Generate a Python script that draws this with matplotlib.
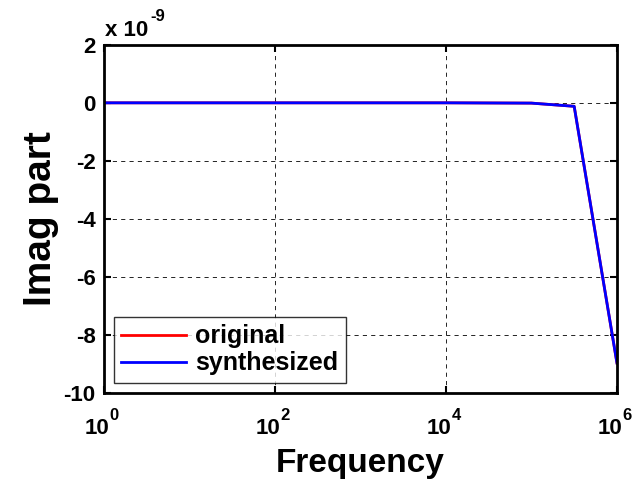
import matplotlib
matplotlib.use("Agg")
import matplotlib.pyplot as plt
from matplotlib.ticker import FixedLocator, NullLocator
from matplotlib.transforms import blended_transform_factory, offset_copy

plt.rcParams['font.family'] = ['Liberation Sans', 'DejaVu Sans']
plt.rcParams['font.weight'] = 'bold'

freq = [1, 10, 100, 1e3, 1e4, 1e5, 3.16e5, 1e6]
original = [0, 0, 0, 0, 0, -0.01e-9, -0.12e-9, -8.97e-9]
synthesized = [0, 0, 0, 0, 0, -0.01e-9, -0.12e-9, -8.97e-9]
yticks = [2, 0, -2, -4, -6, -8, -10]
xticks = [1, 1e2, 1e4, 1e6]
xtick_exponents = ['0', '2', '4', '6']

fig = plt.figure(figsize=(6.38, 4.82), dpi=100)
ax = fig.add_axes([0.163, 0.185, 0.804, 0.722])
scale = 1e-9
ax.plot(freq, [v / scale for v in original], color='red', lw=2, label='original')
ax.plot(freq, [v / scale for v in synthesized], color='blue', lw=2, label='synthesized')
ax.set_xscale('log')
ax.set_xlim(1, 1e6)
ax.set_ylim(-10, 2)
ax.xaxis.set_major_locator(FixedLocator(xticks))
ax.xaxis.set_minor_locator(NullLocator())
ax.set_xticks(xticks)
ax.set_xticklabels([''] * len(xticks))
ax.set_yticks(yticks)
ax.set_yticklabels([str(t) for t in yticks])
ax.tick_params(axis='both', which='major', labelsize=16, direction='in', length=5, width=1.5,
               top=True, right=True, pad=6)
for sp in ax.spines.values():
    sp.set_linewidth(2)
ax.grid(True, which='major', linestyle=(0, (5, 5)), color='black', linewidth=0.6)

# x tick labels drawn as "10" with a raised exponent
trans = blended_transform_factory(ax.transData, ax.transAxes)
for xv, ex in zip(xticks, xtick_exponents):
    tb = offset_copy(trans, fig=fig, x=-5, y=-18, units='points')
    ax.text(xv, 0, '10', transform=tb, fontsize=16, fontweight='bold', ha='center', va='top')
    te = offset_copy(trans, fig=fig, x=4, y=-11, units='points')
    ax.text(xv, 0, ex, transform=te, fontsize=12, fontweight='bold', ha='left', va='top')

ax.set_xlabel('Frequency', fontsize=24, fontweight='bold', labelpad=34)
ax.set_ylabel('Imag part', fontsize=28, fontweight='bold', labelpad=3)

fig.text(0.165, 0.915, 'x 10', fontsize=16, fontweight='bold', ha='left', va='bottom')
fig.text(0.235, 0.951, '-9', fontsize=12, fontweight='bold', ha='left', va='bottom')

leg = ax.legend(loc='lower left', fontsize=18, frameon=True, fancybox=False,
                edgecolor='black', borderaxespad=0.4, handlelength=2.6,
                borderpad=0.3, labelspacing=0.12, handletextpad=0.35)
leg.get_frame().set_linewidth(1.0)
fig.savefig('out.png', dpi=100)
